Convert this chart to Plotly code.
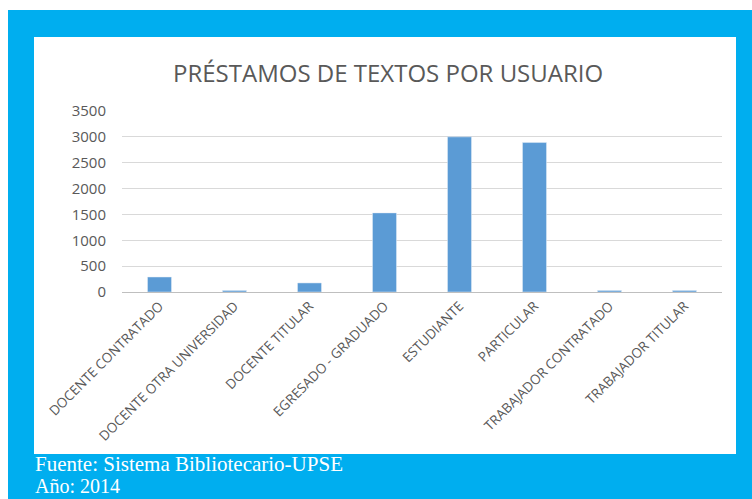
import plotly.graph_objects as go

categories = ["DOCENTE CONTRATADO", "DOCENTE OTRA UNIVERSIDAD", "DOCENTE TITULAR",
              "EGRESADO - GRADUADO", "ESTUDIANTE", "PARTICULAR",
              "TRABAJADOR CONTRATADO", "TRABAJADOR TITULAR"]
values = [290, 30, 175, 1530, 3000, 2890, 30, 30]
y_ticks = [0, 500, 1000, 1500, 2000, 2500, 3000, 3500]

title_text = "PRÉSTAMOS DE TEXTOS POR USUARIO"
footer_1 = "Fuente: Sistema Bibliotecario-UPSE"
footer_2 = "Año: 2014"

W, H = 752, 499
ML, MR, MT, MB = 122, 30, 111, 207
PW, PH = W - ML - MR, H - MT - MB


def px(x):
    return (x - ML) / PW


def py(y):
    return (H - MB - y) / PH


fig = go.Figure(go.Bar(x=categories, y=values, marker_color="#5B9BD5",
                       width=0.32, hoverinfo="x+y"))

fig.update_layout(
    width=W, height=H,
    margin=dict(l=ML, r=MR, t=MT, b=MB, pad=0),
    paper_bgcolor="white", plot_bgcolor="rgba(0,0,0,0)",
    showlegend=False,
    font=dict(family="Open Sans, sans-serif", color="#595959"),
    shapes=[
        dict(type="rect", xref="paper", yref="paper", layer="below",
             x0=px(8), x1=px(770), y0=py(520), y1=py(10),
             fillcolor="#00AEEF", line_width=0),
        dict(type="rect", xref="paper", yref="paper", layer="below",
             x0=px(34), x1=px(736), y0=py(454), y1=py(37),
             fillcolor="white", line_width=0),
    ],
    annotations=[
        dict(text=title_text, xref="paper", yref="paper", x=px(388), y=py(72),
             xanchor="center", yanchor="middle", showarrow=False,
             font=dict(size=24, color="#595959", family="Open Sans, sans-serif")),
        dict(text=footer_1, xref="paper", yref="paper", x=px(33), y=py(464),
             xanchor="left", yanchor="middle", showarrow=False,
             font=dict(size=21, color="white", family="Liberation Serif, serif")),
        dict(text=footer_2, xref="paper", yref="paper", x=px(33), y=py(486),
             xanchor="left", yanchor="middle", showarrow=False,
             font=dict(size=20, color="white", family="Liberation Serif, serif")),
    ],
)

fig.update_xaxes(tickangle=-45, tickfont=dict(size=13.5, color="#595959"),
                 showline=True, linecolor="#bfbfbf", linewidth=1,
                 showgrid=False, ticks="")
fig.update_yaxes(range=[0, 3500], tickvals=y_ticks, ticktext=[str(v) for v in y_ticks],
                 showgrid=True, gridcolor="#d9d9d9", gridwidth=1, zeroline=False,
                 tickfont=dict(size=15, color="#595959"), ticklabelstandoff=15)

fig.write_html("out.html", config={"displayModeBar": False},
               post_script="document.body.style.margin='0';")
